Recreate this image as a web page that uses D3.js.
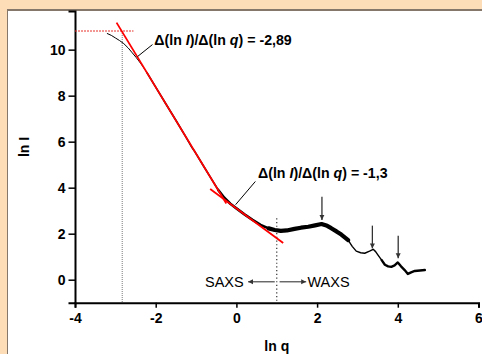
<!DOCTYPE html>
<html>
<head>
<meta charset="utf-8">
<script src="https://cdn.jsdelivr.net/npm/d3@7"></script>
<style>
  html, body { margin: 0; padding: 0; background: #fcddb8; }
  svg { display: block; }
</style>
</head>
<body>
<div id="chart"></div>
<script>
// ln I vs ln q scattering curve with two power-law fits

const W = 482, H = 354;

// measured curve (ln q, ln I)
const lnQ = [-3.20, -3.10, -3.00, -2.90, -2.79, -2.68, -2.58, -2.48, -2.38, -2.30, -2.21,
  -2.00, -1.75, -1.50, -1.25, -1.10, -1.05, -0.80, -0.60, -0.45, -0.30, -0.15, 0.00,
  0.20, 0.40, 0.60, 0.80, 0.95, 1.10, 1.25, 1.44, 1.60, 1.78, 1.95, 2.11, 2.25, 2.35,
  2.48, 2.60, 2.70, 2.77, 2.87, 2.97, 3.08, 3.18, 3.30, 3.39, 3.45, 3.51, 3.60, 3.68,
  3.76, 3.84, 3.92, 4.00, 4.08, 4.17, 4.25, 4.33, 4.42, 4.55, 4.67];
const lnI = [10.70, 10.62, 10.51, 10.40, 10.26, 10.07, 9.86, 9.65, 9.42, 9.22, 8.98,
  8.37, 7.65, 6.93, 6.20, 5.74, 5.62, 4.90, 4.33, 3.90, 3.56, 3.30, 3.10,
  2.84, 2.60, 2.38, 2.23, 2.16, 2.12, 2.14, 2.21, 2.26, 2.30, 2.36, 2.42, 2.34, 2.24,
  2.10, 1.96, 1.82, 1.72, 1.45, 1.24, 1.17, 1.15, 1.24, 1.32, 1.22, 1.07, 0.85, 0.65,
  0.58, 0.56, 0.62, 0.75, 0.58, 0.42, 0.25, 0.32, 0.38, 0.40, 0.42];

// linear fits: slope, intercept, x range
const fitSlopes = [-2.89, -1.3];
const fitIntercepts = [2.59, 3.1];
const fitFrom = [-2.97, -0.65];
const fitTo = [-0.25, 1.16];
const fitLabels = ['-2,89', '-1,3'];

// peak arrows (ln q, top ln I, tip ln I)
const peakQ = [2.12, 3.37, 4.01];
const peakTop = [3.61, 2.35, 1.91];
const peakTip = [2.60, 1.36, 0.93];

// guide lines
const qMin = -2.83, lnIMax = 10.81;   // Guinier cut-off
const qSplit = 1.0, splitTop = 2.67;  // SAXS / WAXS boundary

const xTicks = [-4, -2, 0, 2, 4, 6];
const xMinor = [-3, -1, 1, 3, 5];
const yTicks = [0, 2, 4, 6, 8, 10];
const yMinor = [1, 3, 5, 7, 9, 11];

const FONT = '"Liberation Sans", Arial, sans-serif';

const svg = d3.select('#chart').append('svg')
  .attr('width', W).attr('height', H);

// frame
svg.append('rect').attr('x', 0).attr('y', 0).attr('width', W).attr('height', H).attr('fill', '#fcddb8');
svg.append('rect').attr('x', 7).attr('y', 10).attr('width', W - 7).attr('height', H - 10)
  .attr('fill', '#ffffff');
svg.append('line').attr('x1', 7).attr('x2', W).attr('y1', 10).attr('y2', 10)
  .attr('stroke', '#85776a').attr('stroke-width', 2);
svg.append('line').attr('x1', 7.5).attr('x2', 7.5).attr('y1', 10).attr('y2', H)
  .attr('stroke', '#85776a').attr('stroke-width', 1);

const x = d3.scaleLinear().domain([-4, 6]).range([75, 478.5]);
const y = d3.scaleLinear().domain([-1, 11.68]).range([302.7, 11]);

// axes
function styleAxis(g) {
  g.select('.domain').attr('stroke', '#000').attr('stroke-width', 2);
  g.selectAll('.tick line').attr('stroke', '#000').attr('stroke-width', 1.5);
  g.selectAll('.tick text')
    .attr('font-family', FONT).attr('font-size', 14).attr('font-weight', 'bold').attr('fill', '#000');
}

const gx = svg.append('g').attr('transform', 'translate(0,' + y(-1) + ')');
gx.call(d3.axisBottom(x).tickValues(xMinor).tickSize(3).tickFormat(''));
gx.call(d3.axisBottom(x).tickValues(xTicks).tickSize(5).tickPadding(5)
  .tickFormat(d3.format('d')));
gx.call(styleAxis);
gx.selectAll('.tick text').text(function(d) { return d < 0 ? '-' + Math.abs(d) : d; });

const gy = svg.append('g').attr('transform', 'translate(' + x(-4) + ',0)');
gy.call(d3.axisLeft(y).tickValues(yMinor).tickSize(3.5).tickFormat(''));
gy.call(d3.axisLeft(y).tickValues(yTicks).tickSize(6.5).tickPadding(3)
  .tickFormat(d3.format('d')));
gy.call(styleAxis);

// axis titles
svg.append('text')
  .attr('x', x(1)).attr('y', 351)
  .attr('text-anchor', 'middle')
  .attr('font-family', FONT).attr('font-size', 14).attr('font-weight', 'bold')
  .text('ln q');
svg.append('text')
  .attr('transform', 'translate(28.5,147) rotate(-90)')
  .attr('text-anchor', 'middle')
  .attr('font-family', FONT).attr('font-size', 14).attr('font-weight', 'bold')
  .text('ln I');

// guide lines
svg.append('line')
  .attr('x1', x(-4)).attr('x2', x(-2.55)).attr('y1', y(lnIMax)).attr('y2', y(lnIMax))
  .attr('stroke', '#e8302c').attr('stroke-width', 1).attr('stroke-dasharray', '2,1');
svg.append('line')
  .attr('x1', x(qMin)).attr('x2', x(qMin)).attr('y1', y(lnIMax)).attr('y2', y(-1))
  .attr('stroke', '#7a7a7a').attr('stroke-width', 1).attr('stroke-dasharray', '1,1');
svg.append('line')
  .attr('x1', x(qSplit)).attr('x2', x(qSplit)).attr('y1', y(splitTop)).attr('y2', y(-1))
  .attr('stroke', '#333').attr('stroke-width', 1.2).attr('stroke-dasharray', '1.2,2.5');

// curve, drawn in pieces so the noisy stretches read thicker
const pts = lnQ.map(function(q, i) { return [q, lnI[i]]; });
const line = d3.line().x(function(d) { return x(d[0]); }).y(function(d) { return y(d[1]); });
const pieces = [
  [-3.3, -2.21, 1],
  [-2.21, -0.45, 1.6],
  [-0.45, 0.8, 2.6],
  [0.8, 2.77, 4.2],
  [2.77, 3.6, 1.4],
  [3.6, 4.7, 2.4]
];
pieces.forEach(function(p) {
  svg.append('path')
    .attr('d', line(pts.filter(function(d) { return d[0] >= p[0] && d[0] <= p[1]; })))
    .attr('fill', 'none')
    .attr('stroke', '#000')
    .attr('stroke-width', p[2])
    .attr('stroke-linejoin', 'round')
    .attr('stroke-linecap', 'round');
});

// fit lines
fitSlopes.forEach(function(s, i) {
  const b = fitIntercepts[i];
  svg.append('line')
    .attr('x1', x(fitFrom[i])).attr('y1', y(b + s * fitFrom[i]))
    .attr('x2', x(fitTo[i])).attr('y2', y(b + s * fitTo[i]))
    .attr('stroke', '#ff0000').attr('stroke-width', 1.8);
});

// fit annotations with leader lines
const labelAt = [[-2.06, 10.2], [0.51, 4.41]];
const leaderFrom = [[-2.08, 10.22], [0.47, 4.27]];
const leaderTo = [[-2.45, 9.70], [-0.02, 3.26]];
fitLabels.forEach(function(lab, i) {
  svg.append('line')
    .attr('x1', x(leaderFrom[i][0])).attr('y1', y(leaderFrom[i][1]))
    .attr('x2', x(leaderTo[i][0])).attr('y2', y(leaderTo[i][1]))
    .attr('stroke', '#000').attr('stroke-width', 1);
  const t = svg.append('text')
    .attr('x', x(labelAt[i][0]) + 1).attr('y', y(labelAt[i][1]))
    .attr('font-family', FONT).attr('font-size', 14.2).attr('font-weight', 'bold');
  t.append('tspan').text('\u0394(ln ');
  t.append('tspan').attr('font-style', 'italic').text('I');
  t.append('tspan').text(')/\u0394(ln ');
  t.append('tspan').attr('font-style', 'italic').text('q');
  t.append('tspan').text(') = ' + lab);
});

// peak arrows
const defs = svg.append('defs');
defs.append('marker')
  .attr('id', 'head')
  .attr('viewBox', '0 0 10 10')
  .attr('refX', 10).attr('refY', 5)
  .attr('markerWidth', 5).attr('markerHeight', 6)
  .attr('markerUnits', 'userSpaceOnUse')
  .attr('orient', 'auto')
  .append('path').attr('d', 'M0,0 L10,5 L0,10 Z').attr('fill', '#333');

peakQ.forEach(function(q, i) {
  svg.append('line')
    .attr('x1', x(q)).attr('x2', x(q))
    .attr('y1', y(peakTop[i])).attr('y2', y(peakTip[i]))
    .attr('stroke', '#333').attr('stroke-width', 1.3)
    .attr('marker-end', 'url(#head)');
});

// SAXS / WAXS
const regionY = -0.09;
svg.append('line')
  .attr('x1', x(0.95)).attr('x2', x(0.29)).attr('y1', y(regionY)).attr('y2', y(regionY))
  .attr('stroke', '#555').attr('stroke-width', 1.3).attr('marker-end', 'url(#head)');
svg.append('line')
  .attr('x1', x(1.07)).attr('x2', x(1.73)).attr('y1', y(regionY)).attr('y2', y(regionY))
  .attr('stroke', '#555').attr('stroke-width', 1.3).attr('marker-end', 'url(#head)');
svg.append('text')
  .attr('x', x(0.18)).attr('y', 287)
  .attr('text-anchor', 'end')
  .attr('font-family', FONT).attr('font-size', 14.5)
  .text('SAXS');
svg.append('text')
  .attr('x', x(1.76)).attr('y', 287)
  .attr('font-family', FONT).attr('font-size', 14.5)
  .text('WAXS');
</script>
</body>
</html>
